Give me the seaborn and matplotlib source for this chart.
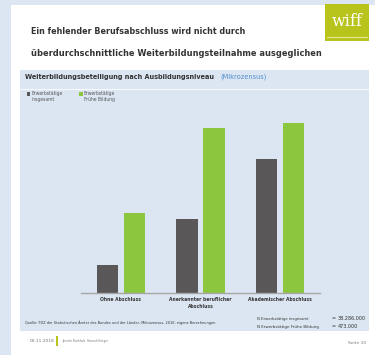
import matplotlib
matplotlib.use("Agg")
import matplotlib.pyplot as plt
from matplotlib.patches import Rectangle
from matplotlib.lines import Line2D
import pandas as pd
import seaborn as sns

# Participation in continuing education by qualification level (percent)
categories = ["Ohne Abschluss", "Anerkannter beruflicher\nAbschluss", "Akademischer Abschluss"]
series_names = ["Erwerbstätige\ninsgesamt", "Erwerbstätige\nFrühe Bildung"]
insgesamt = [3.6, 9.6, 17.3]
fruehe_bildung = [10.4, 21.4, 22.0]
n_labels = ["Erwerbstätige insgesamt", "Erwerbstätige Frühe Bildung"]
n_values = ["38.286.000", "473.000"]

sns.set_theme(style="white")
plt.rcParams["font.family"] = ["DejaVu Sans"]

DARK = "#595757"
GREEN = "#8cc63f"
PANEL = "#dce6f2"
BORDER = "#dce6f2"
TEXT = "#333333"

W, H = 375, 355
fig = plt.figure(figsize=(W / 100, H / 100), dpi=100)
fig.patch.set_facecolor("white")
renderer = fig.canvas.get_renderer()


def px_rect(x0, y0, x1, y1, color, z=0, **kw):
    fig.add_artist(Rectangle((x0 / W, 1 - y1 / H), (x1 - x0) / W, (y1 - y0) / H,
                             transform=fig.transFigure, facecolor=color,
                             edgecolor="none", zorder=z, **kw))


def fit_width(t, width):
    # shrink the font until the text spans the given pixel width
    w = t.get_window_extent(renderer).width
    t.set_fontsize(t.get_fontsize() * width / w)


def px_text(x, y, s, width=None, **kw):
    t = fig.text(x / W, 1 - y / H, s, **kw)
    if width is not None:
        fit_width(t, width)
    return t


# slide frame
px_rect(0, 0, W, 5, BORDER)
px_rect(0, 0, 11, H, BORDER)
# chart panel
px_rect(20, 70, 369, 331, PANEL)
fig.add_artist(Line2D([20 / W, 369 / W], [1 - 89 / H, 1 - 89 / H],
                      transform=fig.transFigure, color="white", lw=0.8, alpha=0.8))

# logo
px_rect(325, 4, 369, 41, "#b8c41c", z=1)
fig.add_artist(Line2D([327 / W, 367 / W], [1 - 37 / H, 1 - 37 / H],
                      transform=fig.transFigure, color="#e4ea9a", lw=0.8, zorder=2))
px_text(347, 21, "wiff", color="white", fontsize=11.5, family="DejaVu Serif",
        ha="center", va="center", zorder=3)

# headline
px_text(31, 32, "Ein fehlender Berufsabschluss wird nicht durch", width=213, color=TEXT,
        fontsize=9, fontweight="bold", va="center")
px_text(31, 54, "überdurchschnittliche Weiterbildungsteilnahme ausgeglichen", width=287,
        color=TEXT, fontsize=9, fontweight="bold", va="center")

# panel title
px_text(25, 77, "Weiterbildungsbeteiligung nach Ausbildungsniveau", width=193, color=TEXT,
        fontsize=6, fontweight="bold", va="center")
px_text(220, 77, "(Mikrozensus)", width=47, color="#4f8fd0", fontsize=6, va="center")

# bars
df = pd.DataFrame({
    "Ausbildungsniveau": categories * 2,
    "Gruppe": [series_names[0]] * 3 + [series_names[1]] * 3,
    "Anteil": insgesamt + fruehe_bildung,
})
ax = fig.add_axes([81.25 / W, (H - 293) / H, 238.5 / W, 183 / H])
sns.barplot(data=df, x="Ausbildungsniveau", y="Anteil", hue="Gruppe",
            palette=[DARK, GREEN], saturation=1, width=0.68, gap=0.22, ax=ax,
            edgecolor="none", legend=False)
ax.set_facecolor("none")
ax.set_xlim(-0.5, 2.5)
ax.set_ylim(0, 22.0 * 183 / 170)
ax.set_xlabel("")
ax.set_ylabel("")
ax.set_yticks([])
for side in ["top", "right", "left"]:
    ax.spines[side].set_visible(False)
ax.spines["bottom"].set_color("#a6a6a6")
ax.spines["bottom"].set_linewidth(1.0)
ax.tick_params(axis="x", length=0, pad=3)
ax.set_xticks(range(len(categories)))
labels = ax.set_xticklabels(categories, fontsize=5, color=TEXT, fontweight="bold",
                            linespacing=1.5, va="top")
widest = max(l.get_window_extent(renderer).width for l in labels)
for l in labels:
    l.set_fontsize(5 * 64 / widest)

# legend
for (x, name, col) in [(29, series_names[0], DARK), (81, series_names[1], GREEN)]:
    px_rect(x - 2, 92, x + 1.5, 95.5, col, z=2)
    px_text(x + 3, 90.5, name, width=32, color="#555555", fontsize=4.5, va="top",
            linespacing=1.5)

# source and totals
px_text(25, 323, "Quelle: FDZ der Statistischen Ämter des Bundes und der Länder, Mikrozensus, 2016; "
        "eigene Berechnungen", width=190, color=TEXT, fontsize=4, va="center")
for i, (lab, val) in enumerate(zip(n_labels, n_values)):
    y = 319 + i * 8
    t = px_text(257, y, "N " + lab, color=TEXT, fontsize=4, va="center")
    t.set_fontsize(4 * (60 if i == 1 else 60 * len(lab) / len(n_labels[1]))
                   / t.get_window_extent(renderer).width)
    px_text(331, y, "=", color=TEXT, fontsize=3.5, va="center")
    px_text(338, y, val, color=TEXT, fontsize=3.5, va="center")

# footer
px_text(30, 341, "09.11.2018", color="#777777", fontsize=3.2, va="center")
px_rect(56, 336, 58, 346, "#b8c41c")
px_text(62, 341, "Jennifer Buchholz  Hannah Krieger", width=45, color="#777777",
        fontsize=3.2, va="center")
px_text(366, 343, "Seite 10", color="#777777", fontsize=3.2, va="center", ha="right")

fig.savefig("out.png", dpi=100)
